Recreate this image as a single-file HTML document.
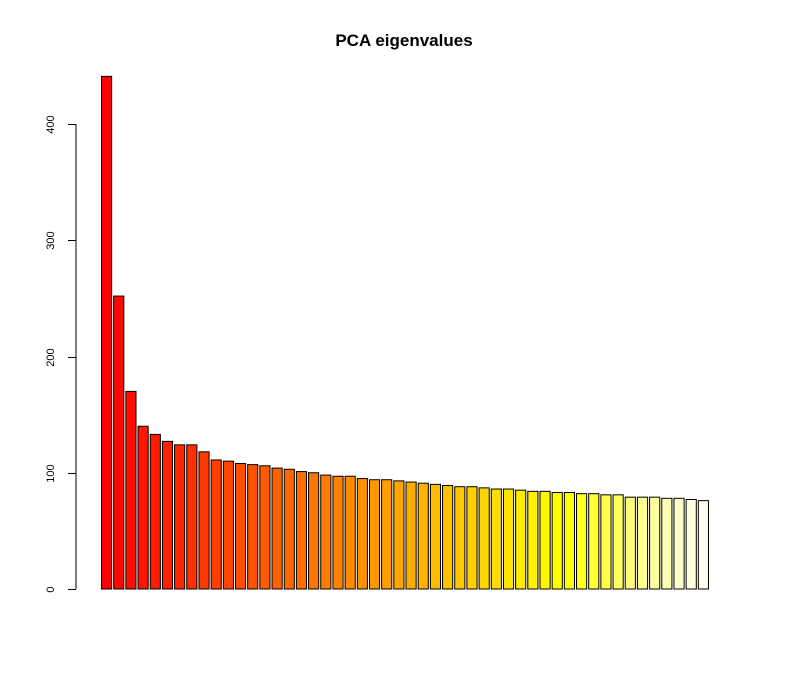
<!DOCTYPE html>
<html><head><meta charset="utf-8"><style>
html,body{margin:0;padding:0;background:#fff;}
svg{display:block;font-family:"Liberation Sans",Arial,sans-serif;}
</style></head><body>
<svg id="chart" width="809" height="691" viewBox="0 0 809 691">
<text x="404" y="46" text-anchor="middle" font-size="17" font-weight="bold">PCA eigenvalues</text>
<g id="yaxis"></g>
<g id="bars"></g>
</svg>
<script>
const values = [441,252,170,140,133,127,124,124,118,111,110,108,107,106,104,103,101,100,98,97,97,95,94,94,93,92,91,90,89,88,88,87,86,86,85,84,84,83,83,82,82,81,81,79,79,79,78,78,77,76];
const yTicks = [0,100,200,300,400];
const yTickLabels = ["0","100","200","300","400"];

const NS="http://www.w3.org/2000/svg";
const y0=589, pxPer=465/400;
function yScale(v){return y0 - v*pxPer;}
const left=101.5, pitch=12.18, bw=10.15;
function xScale(i){return left + i*pitch;}

function heatColors(n){
  const j=Math.floor(n/4), i=n-j, out=[];
  for(let k=0;k<i;k++){const g=Math.round(255*(k/(i-1)));out.push(`rgb(255,${g},0)`);}
  for(let k=0;k<j;k++){const s=(1-1/(2*j)) - k*((1-1/j)/(j-1));out.push(`rgb(255,255,${Math.round(255*(1-s))})`);}
  return out;
}
const cols=heatColors(values.length);

const ax=document.getElementById('yaxis');
const line=document.createElementNS(NS,'line');


line.setAttribute('x1',76);line.setAttribute('x2',76);
line.setAttribute('y1',yScale(yTicks[yTicks.length-1]));line.setAttribute('y2',yScale(yTicks[0]));
line.setAttribute('stroke','#000');line.setAttribute('stroke-width','1');
ax.appendChild(line);
yTicks.forEach((t,k)=>{
  const y=Math.round(yScale(t))+0.5;
  const tk=document.createElementNS(NS,'line');
  
  
  tk.setAttribute('x1',68);tk.setAttribute('x2',76);tk.setAttribute('y1',y);tk.setAttribute('y2',y);
  tk.setAttribute('stroke','#000');
  ax.appendChild(tk);
  const tx=document.createElementNS(NS,'text');
  
  
  tx.setAttribute('x',54);tx.setAttribute('y',y);
  tx.setAttribute('font-size','11');tx.setAttribute('text-anchor','middle');
  tx.setAttribute('transform',`rotate(-90 54 ${y})`);
  tx.textContent=yTickLabels[k];
  ax.appendChild(tx);
});
const bg=document.getElementById('bars');
values.forEach((v,i)=>{
  const r=document.createElementNS(NS,'rect');
  
  
  const yt=yScale(v);
  r.setAttribute('x',xScale(i));r.setAttribute('y',yt);
  r.setAttribute('width',bw);r.setAttribute('height',y0-yt);
  r.setAttribute('fill',cols[i]);r.setAttribute('stroke','#000');r.setAttribute('stroke-width','1');
  bg.appendChild(r);
});
</script>
</body></html>
